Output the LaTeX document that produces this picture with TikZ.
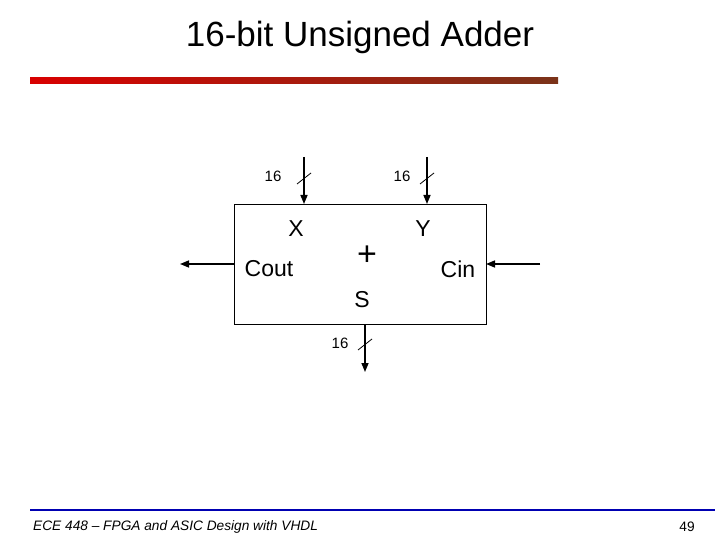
\documentclass[tikz,border=0pt]{standalone}
\usepackage{fontspec}
\setmainfont{Liberation Sans}
\usetikzlibrary{arrows.meta}
\begin{document}
\begin{tikzpicture}[x=1pt,y=-1pt,
  wire/.style={line width=1.5pt,-{Triangle[length=9pt,width=7pt]}},
  tick/.style={line width=0.8pt}]
\useasboundingbox (0,0) rectangle (720,540);
\node (title) at (360,37) {\fontsize{35}{40}\selectfont 16-bit Unsigned Adder};
\shade[left color=red!85!black,right color=black!70!red!60!brown] (30,78) rectangle (558,84);
% adder box
\draw[line width=0.8pt] (234,204) rectangle (486,324);
\coordinate (xin) at (304,204);
\coordinate (yin) at (427,204);
\coordinate (sout) at (365,324);
\coordinate (coutp) at (234,264);
\coordinate (cinp) at (486,264);
\coordinate (xtop) at (304,157);
\coordinate (ytop) at (427,157);
\coordinate (sbot) at (365,372);
\coordinate (coutend) at (180,264);
\coordinate (cinstart) at (540,264);
\node (xl) at (296,229) {\fontsize{23}{27}\selectfont X};
\node (yl) at (423,229) {\fontsize{23}{27}\selectfont Y};
\node (plus) at (367,256) {\fontsize{34}{38}\selectfont +};
\node (coutl) at (269,269) {\fontsize{23}{27}\selectfont Cout};
\node (cinl) at (458,269) {\fontsize{23}{27}\selectfont Cin};
\node (sl) at (362,300) {\fontsize{23}{27}\selectfont S};
% buses
\draw[wire] (xtop) -- (xin);
\draw[wire] (ytop) -- (yin);
\draw[wire] (sout) -- (sbot);
\draw[wire] (coutp) -- (coutend);
\draw[wire] (cinstart) -- (cinp);
\draw[tick] (297,184) -- (311,173);
\draw[tick] (420,184) -- (434,173);
\draw[tick] (358,350) -- (372,339);
\node (xw) at (273,176) {\fontsize{15}{18}\selectfont 16};
\node (yw) at (402,176) {\fontsize{15}{18}\selectfont 16};
\node (sw) at (340,343) {\fontsize{15}{18}\selectfont 16};
% footer
\draw[blue!70!black,line width=2.5pt] (30,510) -- (715,510);
\node[anchor=west,inner sep=0pt] (foot) at (33,527) {\fontsize{13.7}{16}\selectfont\itshape ECE 448 – FPGA and ASIC Design with VHDL};
\node (page) at (687,527) {\fontsize{13.7}{16}\selectfont 49};
\end{tikzpicture}
\end{document}
